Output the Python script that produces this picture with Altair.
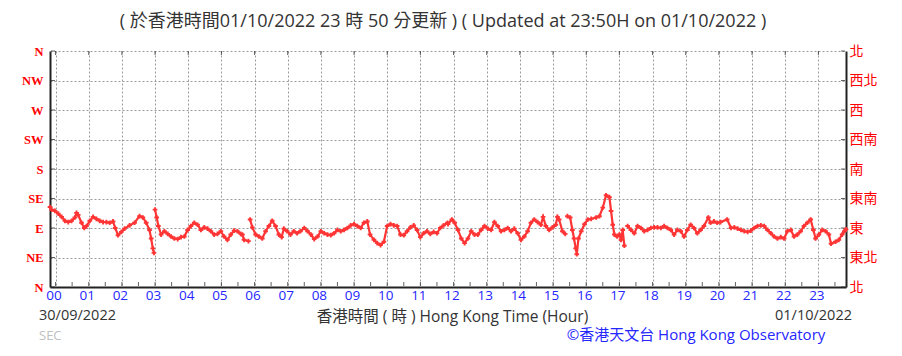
import json
import altair as alt
import pandas as pd

# ---- data (minutes after 00:00 on 01/10, wind direction in degrees) ----
minutes = [
    -10, -7, -1, 5, 11, 17, 23, 29, 35, 38, 41, 47, 52, 56, 62, 68, 74, 80, 86, 92,
    98, 104, 108, 113, 119, 125, 134, 143, 152, 158, 164, 170, 173, 176, 178, 180, 183, 186, 191, 197,
    203, 209, 215, 221, 227, 233, 239, 245, 251, 257, 263, 269, 275, 281, 287, 293, 299, 305, 311, 317,
    323, 329, 335, 338, 341, 349, 352, 356, 362, 368, 374, 380, 386, 392, 398, 404, 409, 413, 419, 425,
    431, 437, 443, 450, 456, 462, 468, 474, 480, 486, 492, 498, 504, 510, 516, 522, 528, 534, 540, 546,
    552, 558, 564, 569, 576, 582, 588, 594, 600, 606, 612, 618, 624, 630, 636, 642, 648, 654, 660, 666,
    672, 678, 684, 690, 696, 702, 709, 710, 717, 722, 728, 734, 740, 746, 752, 758, 764, 770, 776, 782,
    788, 794, 800, 806, 812, 818, 824, 830, 836, 842, 848, 854, 860, 866, 872, 878, 882, 887, 893, 899,
    905, 908, 911, 917, 922, 926, 931, 935, 938, 941, 943, 946, 951, 957, 963, 969, 978, 984, 990, 996,
    1002, 1005, 1008, 1011, 1016, 1020, 1023, 1026, 1029, 1035, 1041, 1047, 1053, 1059, 1065, 1071, 1077, 1083, 1089, 1095,
    1101, 1107, 1113, 1119, 1125, 1131, 1137, 1143, 1149, 1155, 1161, 1167, 1173, 1181, 1185, 1191, 1197, 1203, 1215, 1222,
    1228, 1234, 1240, 1246, 1252, 1258, 1264, 1270, 1276, 1282, 1288, 1294, 1300, 1306, 1312, 1318, 1324, 1330, 1336, 1342,
    1348, 1354, 1360, 1366, 1371, 1375, 1381, 1387, 1393, 1399, 1403, 1411, 1417, 1423, 1427, 1430,
]
direction = [
    122, 118, 116, 112, 107, 101, 99, 101, 106, 113, 110, 98, 90, 93, 101, 107, 104, 101, 99, 99,
    98, 100, 90, 79, 84, 89, 94, 98, 108, 106, 98, 87, 74, 59, 52, 118, 106, 93, 80, 85,
    81, 77, 74, 73, 76, 77, 87, 93, 98, 95, 87, 91, 89, 85, 80, 81, 85, 77, 72, 80,
    86, 85, 81, 80, 72, 70, 103, 91, 80, 77, 74, 85, 93, 101, 93, 80, 76, 89, 85, 80,
    85, 82, 85, 90, 85, 80, 73, 77, 85, 82, 80, 79, 82, 87, 85, 87, 90, 94, 96, 93,
    90, 98, 100, 80, 72, 67, 64, 69, 93, 96, 94, 93, 80, 79, 85, 91, 94, 87, 76, 82,
    85, 81, 84, 82, 90, 94, 98, 96, 103, 98, 87, 74, 67, 74, 85, 80, 80, 87, 93, 89,
    87, 99, 93, 85, 87, 90, 85, 89, 82, 72, 77, 85, 98, 103, 99, 95, 107, 93, 87, 91,
    95, 107, 103, 85, 81, 108, 106, 87, 74, 59, 50, 74, 85, 96, 103, 104, 106, 108, 121, 140,
    137, 116, 95, 80, 77, 80, 72, 87, 63, 93, 87, 82, 93, 90, 85, 87, 90, 91, 91, 90,
    93, 90, 87, 80, 87, 85, 77, 87, 95, 90, 82, 87, 93, 106, 98, 100, 98, 99, 103, 90,
    91, 89, 87, 85, 84, 86, 90, 93, 94, 93, 87, 82, 77, 74, 76, 74, 85, 87, 77, 80,
    85, 93, 98, 103, 87, 74, 80, 87, 85, 80, 66, 69, 72, 80, 85, 88,
]

hour_values = [h * 60 for h in range(24)]
half_hour_values = [h * 60 + 30 for h in range(24)]
hour_labels = [f"{h:02d}" for h in range(24)]
compass_values = [0, 45, 90, 135, 180, 225, 270, 315, 360]
compass_en = ["N", "NE", "E", "SE", "S", "SW", "W", "NW", "N"]
compass_zh = ["北", "東北", "東", "東南", "南", "西南", "西", "西北", "北"]

title_text = "( 於香港時間01/10/2022 23 時 50 分更新 ) ( Updated at 23:50H on 01/10/2022 )"
xaxis_title = "香港時間 ( 時 ) Hong Kong Time (Hour)"
date_start = "30/09/2022"
date_end = "01/10/2022"
credit_text = "©香港天文台 Hong Kong Observatory"
sec_text = "SEC"

W, H = 796, 236
RED = "#ff0000"
PT = "#ff3434"
BLUE = "#2626ff"
GRID = "#9a9a9a"
AXIS = "#222222"
CJK = "Noto Sans CJK TC"
MIX = "Open Sans, Noto Sans CJK TC"

df = pd.DataFrame({"minute": minutes, "dir": direction})
# break the connecting line where the wind direction jumps sharply
df["seg"] = (df["dir"].diff().abs() > 25).cumsum()

hour_expr = json.dumps(hour_labels) + "[round(datum.value/60)]"
en_expr = json.dumps(compass_en) + "[round(datum.value/45)]"
zh_expr = json.dumps(compass_zh, ensure_ascii=False) + "[round(datum.value/45)]"

x_scale = alt.Scale(domain=[-10, 1430], nice=False, zero=False)
x_axis = alt.Axis(
    values=hour_values, labelExpr=hour_expr, orient="bottom",
    grid=True, gridColor=GRID, gridDash=[2, 2], gridWidth=1,
    domainColor=AXIS, domainWidth=2, ticks=False,
    labelColor=BLUE, labelFont="Open Sans", labelFontSize=13.5, labelPadding=1,
    labelOffset=-2, labelFlush=False, labelOverlap=False,
    title=xaxis_title, titleFont=MIX, titleFontSize=15.5, titleFontWeight="normal",
    titleColor="#333333", titlePadding=8, titleX=402,
)
y_scale = alt.Scale(domain=[0, 360], nice=False, zero=False)
y_left = alt.Axis(
    values=compass_values, labelExpr=en_expr, orient="left",
    grid=True, gridColor=GRID, gridDash=[2, 2], gridWidth=1,
    domainColor=AXIS, domainWidth=2, ticks=False,
    labelColor=RED, labelFont="Liberation Serif", labelFontWeight="bold",
    labelFontSize=12.5, labelPadding=7, title="",
)
y_right = alt.Axis(
    values=compass_values, labelExpr=zh_expr, orient="right",
    grid=False, domainColor=AXIS, domainWidth=2, ticks=False,
    labelColor=RED, labelFont=CJK, labelFontSize=14, labelPadding=3, title="",
)

x_enc = alt.X("minute:Q", scale=x_scale, axis=x_axis)

line = alt.Chart(df).mark_line(color=PT, strokeWidth=2.2).encode(
    x=x_enc,
    y=alt.Y("dir:Q", scale=y_scale, axis=y_left),
    detail="seg:N",
)
points = alt.Chart(df).mark_point(shape="cross", filled=True, size=22, color=PT, opacity=1).encode(
    x=x_enc,
    y=alt.Y("dir:Q", scale=y_scale, axis=y_left),
)

# small inward tick marks on the frame
bottom_ticks = alt.Chart(pd.DataFrame({"minute": hour_values + half_hour_values})).mark_tick(
    orient="vertical", size=4, thickness=1, color=AXIS
).encode(x=x_enc, y=alt.value(H - 3))
top_ticks = alt.Chart(pd.DataFrame({"minute": hour_values})).mark_tick(
    orient="vertical", size=4, thickness=1, color=AXIS
).encode(x=x_enc, y=alt.value(2))
left_ticks = alt.Chart(pd.DataFrame({"dir": compass_values})).mark_tick(
    orient="horizontal", size=4, thickness=1, color=AXIS
).encode(y=alt.Y("dir:Q", scale=y_scale, axis=y_left), x=alt.value(3))
right_ticks = alt.Chart(pd.DataFrame({"dir": compass_values})).mark_tick(
    orient="horizontal", size=4, thickness=1, color=AXIS
).encode(y=alt.Y("dir:Q", scale=y_scale, axis=y_left), x=alt.value(W - 3))

right_axis = alt.Chart(df).mark_point(opacity=0).encode(
    x=x_enc,
    y=alt.Y("dir:Q", scale=y_scale, axis=y_right),
)


def text_layer(txt, x, y, align, size, color, font=MIX, baseline="middle"):
    return alt.Chart(pd.DataFrame({"t": [txt]})).mark_text(
        align=align, baseline=baseline, font=font, fontSize=size, color=color
    ).encode(x=alt.value(x), y=alt.value(y), text="t:N")


title = text_layer(title_text, 393, -29, "center", 18, "#333333")
d0 = text_layer(date_start, -11, 265, "left", 14.5, "#333333")
d1 = text_layer(date_end, 802, 265, "right", 14.5, "#333333")
credit = text_layer(credit_text, 646, 289, "center", 15, BLUE, baseline="alphabetic")
sec = text_layer(sec_text, -11, 292, "left", 13, "#c0c0c0", baseline="bottom")

left_group = alt.layer(bottom_ticks, top_ticks, left_ticks, right_ticks, line, points)

chart = (
    alt.layer(left_group, right_axis, title, d0, d1, credit, sec)
    .resolve_scale(y="independent")
    .properties(
        width=W, height=H,
        autosize=alt.AutoSizeParams(type="none"),
        padding={"left": 42, "top": 43, "right": 40, "bottom": 57},
        background="white",
    )
    .configure_view(strokeWidth=0)
)

chart.save("out.html", embed_options={"renderer": "svg", "actions": False})
